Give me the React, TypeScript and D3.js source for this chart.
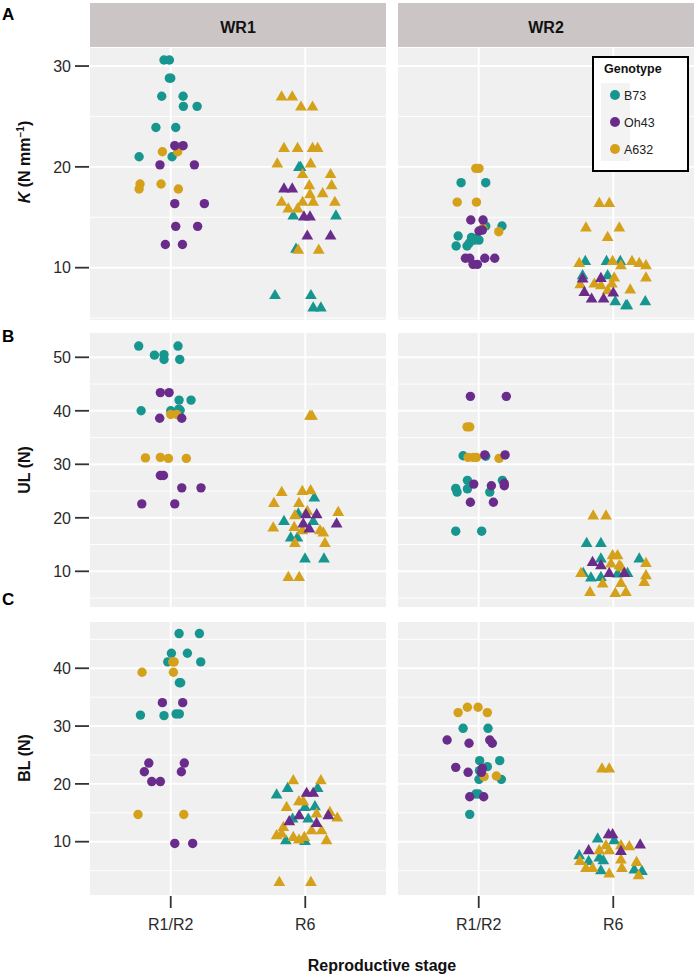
import * as d3 from "d3";

// [genotype, stage, jitter (in category steps), value]
type Pt = [string, string, number, number];

const genotypes = ["B73", "Oh43", "A632"];
const genotypeColors = ["#17968f", "#6a2c8b", "#d5a11a"];
const drawOrder = ["B73", "A632", "Oh43"];
const stages = ["R1/R2", "R6"];
const sites = ["WR1", "WR2"];

// ---- Panel A: K (N mm-1)
const kWR1: Pt[] = [
  ["B73", "R1/R2", -0.05, 30.6], ["B73", "R1/R2", -0.01, 30.6], ["B73", "R1/R2", -0.01, 28.8], ["B73", "R1/R2", 0.0, 28.8],
  ["B73", "R1/R2", -0.067, 27.0], ["B73", "R1/R2", 0.092, 27.0], ["B73", "R1/R2", 0.094, 26.0], ["B73", "R1/R2", 0.196, 26.0],
  ["B73", "R1/R2", -0.11, 23.9], ["B73", "R1/R2", 0.037, 23.9], ["B73", "R1/R2", -0.235, 21.0], ["B73", "R1/R2", 0.01, 21.0],
  ["Oh43", "R1/R2", 0.03, 22.1], ["Oh43", "R1/R2", 0.092, 22.1], ["Oh43", "R1/R2", -0.08, 20.2], ["Oh43", "R1/R2", 0.176, 20.2],
  ["Oh43", "R1/R2", 0.03, 16.35], ["Oh43", "R1/R2", 0.25, 16.35], ["Oh43", "R1/R2", 0.037, 14.1], ["Oh43", "R1/R2", 0.2, 14.1],
  ["Oh43", "R1/R2", -0.04, 12.3], ["Oh43", "R1/R2", 0.087, 12.3],
  ["A632", "R1/R2", -0.062, 21.5], ["A632", "R1/R2", 0.052, 21.5], ["A632", "R1/R2", -0.228, 18.3], ["A632", "R1/R2", -0.235, 17.8],
  ["A632", "R1/R2", -0.072, 18.3], ["A632", "R1/R2", 0.057, 17.8],
  ["B73", "R6", -0.047, 20.0], ["B73", "R6", -0.035, 20.0], ["B73", "R6", -0.089, 15.2], ["B73", "R6", 0.228, 15.2],
  ["B73", "R6", -0.069, 11.9], ["B73", "R6", -0.225, 7.3], ["B73", "R6", 0.042, 7.3], ["B73", "R6", 0.059, 6.07], ["B73", "R6", 0.116, 6.07],
  ["Oh43", "R6", -0.158, 17.87], ["Oh43", "R6", -0.097, 17.87], ["Oh43", "R6", -0.01, 15.1], ["Oh43", "R6", 0.035, 15.1],
  ["Oh43", "R6", 0.015, 13.2], ["Oh43", "R6", 0.188, 13.2],
  ["A632", "R6", -0.176, 27.0], ["A632", "R6", -0.097, 27.0], ["A632", "R6", -0.032, 26.0], ["A632", "R6", 0.054, 26.0],
  ["A632", "R6", -0.158, 21.9], ["A632", "R6", -0.057, 21.9], ["A632", "R6", 0.054, 21.9], ["A632", "R6", 0.092, 21.9],
  ["A632", "R6", -0.208, 20.35], ["A632", "R6", 0.04, 20.35], ["A632", "R6", -0.02, 19.3], ["A632", "R6", 0.188, 19.3],
  ["A632", "R6", 0.03, 18.2], ["A632", "R6", 0.196, 18.2], ["A632", "R6", 0.129, 17.4], ["A632", "R6", 0.035, 17.3],
  ["A632", "R6", -0.176, 16.55], ["A632", "R6", -0.02, 16.55], ["A632", "R6", 0.059, 16.55], ["A632", "R6", 0.22, 16.55],
  ["A632", "R6", -0.126, 15.9], ["A632", "R6", -0.057, 15.9], ["A632", "R6", -0.052, 11.8], ["A632", "R6", 0.1, 11.8],
];

const kWR2: Pt[] = [
  ["B73", "R1/R2", -0.131, 18.43], ["B73", "R1/R2", 0.052, 18.43], ["B73", "R1/R2", 0.052, 14.13], ["B73", "R1/R2", 0.173, 14.13],
  ["B73", "R1/R2", -0.153, 13.14], ["B73", "R1/R2", -0.054, 13.0], ["B73", "R1/R2", -0.168, 12.15], ["B73", "R1/R2", -0.087, 12.15],
  ["B73", "R1/R2", -0.03, 12.74], ["B73", "R1/R2", 0.002, 12.74], ["B73", "R1/R2", -0.07, 12.45], ["B73", "R1/R2", -0.015, 12.9],
  ["A632", "R1/R2", -0.022, 19.85], ["A632", "R1/R2", 0.002, 19.85], ["A632", "R1/R2", -0.16, 16.5], ["A632", "R1/R2", -0.017, 16.5],
  ["A632", "R1/R2", 0.149, 13.57], ["A632", "R1/R2", 0.03, 13.9],
  ["Oh43", "R1/R2", -0.059, 14.73], ["Oh43", "R1/R2", 0.032, 14.73], ["Oh43", "R1/R2", 0.002, 13.64], ["Oh43", "R1/R2", 0.027, 13.73],
  ["Oh43", "R1/R2", -0.099, 10.93], ["Oh43", "R1/R2", -0.067, 10.93], ["Oh43", "R1/R2", 0.045, 10.93], ["Oh43", "R1/R2", 0.119, 10.93],
  ["Oh43", "R1/R2", -0.042, 10.33], ["Oh43", "R1/R2", -0.01, 10.33],
  ["B73", "R6", -0.208, 10.69], ["B73", "R6", -0.05, 10.69], ["B73", "R6", 0.052, 10.69], ["B73", "R6", -0.228, 9.27],
  ["B73", "R6", -0.042, 9.27], ["B73", "R6", 0.015, 6.69], ["B73", "R6", 0.094, 6.29], ["B73", "R6", 0.104, 6.29], ["B73", "R6", 0.238, 6.69],
  ["A632", "R6", -0.104, 16.44], ["A632", "R6", -0.03, 16.44], ["A632", "R6", -0.203, 14.0], ["A632", "R6", 0.045, 14.0],
  ["A632", "R6", -0.042, 13.07], ["A632", "R6", -0.253, 10.49], ["A632", "R6", -0.005, 10.69], ["A632", "R6", 0.057, 10.26],
  ["A632", "R6", 0.139, 10.69], ["A632", "R6", 0.193, 10.49], ["A632", "R6", 0.243, 10.26], ["A632", "R6", 0.243, 9.04],
  ["A632", "R6", -0.245, 8.37], ["A632", "R6", -0.141, 8.44], ["A632", "R6", -0.092, 8.27], ["A632", "R6", 0.007, 9.04],
  ["A632", "R6", -0.01, 8.44], ["A632", "R6", -0.042, 7.78], ["A632", "R6", 0.126, 7.85],
  ["Oh43", "R6", -0.228, 8.94], ["Oh43", "R6", -0.092, 9.0], ["Oh43", "R6", -0.215, 7.61], ["Oh43", "R6", -0.161, 6.95],
  ["Oh43", "R6", -0.072, 6.95], ["Oh43", "R6", 0.0, 7.55],
];

// ---- Panel B: UL (N)
const ulWR1: Pt[] = [
  ["B73", "R1/R2", -0.238, 52.1], ["B73", "R1/R2", 0.054, 52.1], ["B73", "R1/R2", -0.121, 50.4], ["B73", "R1/R2", -0.05, 50.5],
  ["B73", "R1/R2", -0.05, 49.6], ["B73", "R1/R2", 0.067, 49.6], ["B73", "R1/R2", 0.062, 42.0], ["B73", "R1/R2", 0.151, 42.0],
  ["B73", "R1/R2", -0.22, 40.0], ["B73", "R1/R2", 0.0, 40.0], ["B73", "R1/R2", 0.07, 40.1], ["B73", "R1/R2", 0.06, 40.3],
  ["A632", "R1/R2", 0.0, 39.3], ["A632", "R1/R2", 0.045, 39.3], ["A632", "R1/R2", -0.188, 31.2], ["A632", "R1/R2", -0.077, 31.3],
  ["A632", "R1/R2", -0.017, 31.1], ["A632", "R1/R2", 0.116, 31.1],
  ["Oh43", "R1/R2", -0.077, 43.4], ["Oh43", "R1/R2", -0.012, 43.4], ["Oh43", "R1/R2", -0.082, 38.6], ["Oh43", "R1/R2", 0.082, 38.6],
  ["Oh43", "R1/R2", -0.077, 27.9], ["Oh43", "R1/R2", -0.054, 27.9], ["Oh43", "R1/R2", 0.082, 25.6], ["Oh43", "R1/R2", 0.225, 25.6],
  ["Oh43", "R1/R2", -0.215, 22.6], ["Oh43", "R1/R2", 0.03, 22.6],
  ["B73", "R6", 0.067, 23.83], ["B73", "R6", -0.052, 20.84], ["B73", "R6", -0.158, 19.46], ["B73", "R6", 0.059, 19.46],
  ["B73", "R6", -0.108, 16.36], ["B73", "R6", -0.059, 16.36], ["B73", "R6", -0.002, 12.43], ["B73", "R6", 0.139, 12.43],
  ["A632", "R6", 0.035, 39.1], ["A632", "R6", 0.05, 39.1], ["A632", "R6", -0.175, 24.88], ["A632", "R6", -0.022, 25.07],
  ["A632", "R6", 0.04, 25.2], ["A632", "R6", -0.233, 22.82], ["A632", "R6", -0.047, 22.82], ["A632", "R6", 0.245, 21.14],
  ["A632", "R6", -0.077, 20.52], ["A632", "R6", 0.015, 21.33], ["A632", "R6", -0.238, 18.22], ["A632", "R6", -0.082, 18.34],
  ["A632", "R6", -0.022, 17.72], ["A632", "R6", 0.109, 17.72], ["A632", "R6", 0.134, 17.29], ["A632", "R6", -0.077, 15.35],
  ["A632", "R6", 0.146, 15.35], ["A632", "R6", -0.126, 8.99], ["A632", "R6", -0.045, 8.99],
  ["Oh43", "R6", 0.005, 20.71], ["Oh43", "R6", 0.085, 20.71], ["Oh43", "R6", 0.233, 18.97], ["Oh43", "R6", -0.015, 18.97],
  ["Oh43", "R6", 0.03, 18.03],
];

const ulWR2: Pt[] = [
  ["B73", "R1/R2", -0.116, 31.6], ["B73", "R1/R2", 0.052, 31.5], ["B73", "R1/R2", -0.084, 27.0], ["B73", "R1/R2", 0.176, 27.0],
  ["B73", "R1/R2", -0.171, 25.5], ["B73", "R1/R2", -0.161, 24.8], ["B73", "R1/R2", -0.084, 25.4], ["B73", "R1/R2", 0.082, 24.8],
  ["B73", "R1/R2", -0.171, 17.5], ["B73", "R1/R2", 0.022, 17.5],
  ["A632", "R1/R2", -0.087, 37.0], ["A632", "R1/R2", -0.067, 37.0], ["A632", "R1/R2", -0.079, 31.3], ["A632", "R1/R2", -0.04, 31.3],
  ["A632", "R1/R2", -0.017, 31.3], ["A632", "R1/R2", 0.151, 31.1],
  ["Oh43", "R1/R2", -0.062, 42.7], ["Oh43", "R1/R2", 0.205, 42.7], ["Oh43", "R1/R2", 0.045, 31.75], ["Oh43", "R1/R2", 0.196, 31.75],
  ["Oh43", "R1/R2", -0.037, 26.3], ["Oh43", "R1/R2", 0.094, 26.0], ["Oh43", "R1/R2", 0.19, 26.0], ["Oh43", "R1/R2", 0.19, 26.4],
  ["Oh43", "R1/R2", -0.062, 22.9], ["Oh43", "R1/R2", 0.109, 22.9],
  ["B73", "R6", -0.198, 15.35], ["B73", "R6", -0.092, 15.35], ["B73", "R6", -0.092, 12.43], ["B73", "R6", 0.193, 12.43],
  ["B73", "R6", -0.223, 9.74], ["B73", "R6", -0.166, 8.88], ["B73", "R6", -0.092, 8.99], ["B73", "R6", 0.032, 9.63], ["B73", "R6", 0.106, 9.74],
  ["A632", "R6", -0.149, 20.47], ["A632", "R6", -0.054, 20.47], ["A632", "R6", -0.005, 13.05], ["A632", "R6", 0.032, 13.05],
  ["A632", "R6", -0.017, 11.5], ["A632", "R6", 0.045, 11.18], ["A632", "R6", 0.06, 10.8], ["A632", "R6", 0.243, 11.61],
  ["A632", "R6", -0.24, 9.74], ["A632", "R6", -0.079, 7.76], ["A632", "R6", 0.057, 7.87], ["A632", "R6", 0.243, 9.31],
  ["A632", "R6", 0.23, 8.06], ["A632", "R6", -0.173, 6.19], ["A632", "R6", 0.015, 6.0], ["A632", "R6", 0.094, 6.19],
  ["Oh43", "R6", -0.154, 11.8], ["Oh43", "R6", -0.092, 11.18], ["Oh43", "R6", -0.03, 9.74], ["Oh43", "R6", 0.082, 9.74],
];

// ---- Panel C: BL (N)
const blWR1: Pt[] = [
  ["B73", "R1/R2", 0.062, 46.0], ["B73", "R1/R2", 0.213, 46.0], ["B73", "R1/R2", 0.005, 42.6], ["B73", "R1/R2", 0.124, 42.6],
  ["B73", "R1/R2", -0.022, 41.1], ["B73", "R1/R2", 0.223, 41.1], ["B73", "R1/R2", 0.064, 37.5], ["B73", "R1/R2", 0.074, 37.5],
  ["B73", "R1/R2", -0.225, 31.9], ["B73", "R1/R2", -0.05, 31.8], ["B73", "R1/R2", 0.04, 32.1], ["B73", "R1/R2", 0.064, 32.1],
  ["A632", "R1/R2", 0.025, 41.1], ["A632", "R1/R2", 0.015, 41.1], ["A632", "R1/R2", -0.213, 39.3], ["A632", "R1/R2", 0.02, 39.3],
  ["A632", "R1/R2", -0.243, 14.7], ["A632", "R1/R2", 0.097, 14.7],
  ["Oh43", "R1/R2", -0.062, 34.05], ["Oh43", "R1/R2", 0.089, 34.05], ["Oh43", "R1/R2", -0.163, 23.6], ["Oh43", "R1/R2", 0.101, 23.6],
  ["Oh43", "R1/R2", -0.196, 22.1], ["Oh43", "R1/R2", 0.079, 22.1], ["Oh43", "R1/R2", -0.141, 20.4], ["Oh43", "R1/R2", -0.077, 20.4],
  ["Oh43", "R1/R2", 0.03, 9.7], ["Oh43", "R1/R2", 0.163, 9.7],
  ["B73", "R6", -0.213, 18.19], ["B73", "R6", -0.131, 19.34], ["B73", "R6", 0.092, 19.34], ["B73", "R6", -0.002, 16.05],
  ["B73", "R6", 0.072, 16.17], ["B73", "R6", -0.094, 14.03], ["B73", "R6", 0.022, 14.03], ["B73", "R6", -0.144, 10.28], ["B73", "R6", -0.002, 10.17],
  ["A632", "R6", -0.089, 20.67], ["A632", "R6", 0.116, 20.67], ["A632", "R6", -0.047, 17.03], ["A632", "R6", -0.015, 17.03],
  ["A632", "R6", -0.139, 16.05], ["A632", "R6", 0.084, 14.9], ["A632", "R6", 0.183, 15.19], ["A632", "R6", 0.238, 14.2],
  ["A632", "R6", -0.163, 12.59], ["A632", "R6", -0.176, 11.44], ["A632", "R6", -0.213, 11.15], ["A632", "R6", -0.089, 10.86],
  ["A632", "R6", -0.047, 10.4], ["A632", "R6", -0.007, 10.86], ["A632", "R6", 0.047, 12.0], ["A632", "R6", 0.121, 12.0],
  ["A632", "R6", 0.158, 10.28], ["A632", "R6", -0.193, 3.07], ["A632", "R6", 0.042, 3.07],
  ["Oh43", "R6", 0.01, 18.48], ["Oh43", "R6", 0.059, 18.48], ["Oh43", "R6", -0.045, 14.61], ["Oh43", "R6", -0.119, 13.57],
  ["Oh43", "R6", 0.084, 13.28], ["Oh43", "R6", 0.171, 14.61],
];

const blWR2: Pt[] = [
  ["B73", "R1/R2", -0.116, 29.61], ["B73", "R1/R2", 0.069, 29.61], ["B73", "R1/R2", 0.007, 24.02], ["B73", "R1/R2", 0.156, 24.02],
  ["B73", "R1/R2", 0.064, 22.98], ["B73", "R1/R2", 0.005, 22.3], ["B73", "R1/R2", 0.002, 20.78], ["B73", "R1/R2", 0.168, 20.78],
  ["B73", "R1/R2", -0.022, 18.25], ["B73", "R1/R2", -0.002, 18.25], ["B73", "R1/R2", -0.067, 14.73],
  ["A632", "R1/R2", -0.153, 32.33], ["A632", "R1/R2", -0.084, 33.25], ["A632", "R1/R2", -0.005, 33.25], ["A632", "R1/R2", 0.064, 32.33],
  ["A632", "R1/R2", 0.04, 21.25], ["A632", "R1/R2", 0.131, 21.36],
  ["Oh43", "R1/R2", -0.235, 27.59], ["Oh43", "R1/R2", -0.072, 27.02], ["Oh43", "R1/R2", 0.082, 27.59], ["Oh43", "R1/R2", 0.101, 27.02],
  ["Oh43", "R1/R2", -0.171, 22.86], ["Oh43", "R1/R2", -0.079, 22.0], ["Oh43", "R1/R2", 0.027, 22.69], ["Oh43", "R1/R2", 0.02, 22.0],
  ["Oh43", "R1/R2", -0.067, 17.78], ["Oh43", "R1/R2", 0.037, 17.78],
  ["B73", "R6", -0.116, 10.59], ["B73", "R6", 0.007, 10.29], ["B73", "R6", -0.253, 7.7], ["B73", "R6", -0.183, 6.71],
  ["B73", "R6", -0.104, 7.3], ["B73", "R6", -0.074, 6.83], ["B73", "R6", -0.092, 5.1], ["B73", "R6", 0.156, 5.22], ["B73", "R6", 0.213, 4.98],
  ["A632", "R6", -0.084, 22.7], ["A632", "R6", -0.03, 22.7], ["A632", "R6", -0.054, 9.43], ["A632", "R6", 0.057, 9.43],
  ["A632", "R6", 0.119, 9.26], ["A632", "R6", -0.104, 8.56], ["A632", "R6", -0.03, 8.56], ["A632", "R6", -0.248, 6.71],
  ["A632", "R6", -0.203, 5.5], ["A632", "R6", -0.154, 5.5], ["A632", "R6", -0.03, 4.53], ["A632", "R6", 0.057, 6.95],
  ["A632", "R6", 0.064, 5.5], ["A632", "R6", 0.173, 6.54], ["A632", "R6", 0.188, 4.24],
  ["Oh43", "R6", -0.035, 11.33], ["Oh43", "R6", -0.005, 11.33], ["Oh43", "R6", 0.2, 9.55], ["Oh43", "R6", -0.183, 8.56],
  ["Oh43", "R6", 0.057, 8.44],
];

const FONT = "'Liberation Sans', Arial, Helvetica, sans-serif";
const W = 694;
const H = 977;
const facetX: [number, number][] = [[90, 386], [398, 694]];

type Row = {
  letter: string;
  letterY: number;
  top: number;
  bottom: number;
  domain: [number, number];
  major: number[];
  minor: number[];
  data: Pt[][];
  titleY: number;
  title: JSX.Element;
};

const rows: Row[] = [
  {
    letter: "A", letterY: 20, top: 48, bottom: 320, domain: [4.81, 31.79],
    major: [10, 20, 30], minor: [5, 15, 25], data: [kWR1, kWR2], titleY: 162,
    title: (
      <>
        <tspan fontStyle="italic">K</tspan>
        <tspan> (N mm</tspan>
        <tspan dy={-6} fontSize={10}>−1</tspan>
        <tspan dy={6}>)</tspan>
      </>
    ),
  },
  {
    letter: "B", letterY: 342, top: 333, bottom: 607, domain: [3.33, 54.54],
    major: [10, 20, 30, 40, 50], minor: [5, 15, 25, 35, 45], data: [ulWR1, ulWR2], titleY: 470,
    title: <>UL (N)</>,
  },
  {
    letter: "C", letterY: 605, top: 622, bottom: 895, domain: [0.78, 48.0],
    major: [10, 20, 30, 40], minor: [5, 15, 25, 35, 45], data: [blWR1, blWR2], titleY: 758,
    title: <>BL (N)</>,
  },
];

const color = d3.scaleOrdinal<string, string>().domain(genotypes).range(genotypeColors);
const triangle = d3.symbol(d3.symbolTriangle, 60)();

function Facet({ row, fi, showX }: { row: Row; fi: number; showX: boolean }) {
  const [x0, x1] = facetX[fi];
  const x = d3.scalePoint<string>().domain(stages).range([x0, x1]).padding(0.6);
  const step = x.step();
  const y = d3.scaleLinear().domain(row.domain).range([row.bottom, row.top]);
  const pts = drawOrder.flatMap((g) => row.data[fi].filter((d) => d[0] === g));
  return (
    <g>
      <rect x={x0} y={row.top} width={x1 - x0} height={row.bottom - row.top} fill="#f0f0f0" />
      {row.minor.filter((v) => v > row.domain[0] && v < row.domain[1]).map((v) => (
        <line key={"mi" + v} x1={x0} x2={x1} y1={y(v)} y2={y(v)} stroke="#fff" strokeWidth={0.9} />
      ))}
      {row.major.map((v) => (
        <line key={"ma" + v} x1={x0} x2={x1} y1={y(v)} y2={y(v)} stroke="#fff" strokeWidth={1.9} />
      ))}
      {stages.map((s) => (
        <line key={s} x1={x(s)} x2={x(s)} y1={row.top} y2={row.bottom} stroke="#fff" strokeWidth={1.9} />
      ))}
      {pts.map((d, i) => {
        const cx = (x(d[1]) as number) + d[2] * step;
        const cy = y(d[3]);
        return d[1] === "R6" ? (
          <path key={i} d={triangle!} transform={`translate(${cx},${cy + 0.8})`} fill={color(d[0])} />
        ) : (
          <circle key={i} cx={cx} cy={cy} r={4.7} fill={color(d[0])} />
        );
      })}
      {fi === 0 &&
        row.major.map((v) => (
          <g key={"t" + v}>
            <line x1={75} x2={89} y1={y(v)} y2={y(v)} stroke="#333" strokeWidth={1.8} />
            <text x={71} y={y(v)} dy="0.36em" textAnchor="end" fontSize={16} fill="#2a2a2a">{v}</text>
          </g>
        ))}
      {showX &&
        stages.map((s) => (
          <g key={"xt" + s}>
            <line x1={x(s)} x2={x(s)} y1={row.bottom + 1} y2={row.bottom + 13} stroke="#333" strokeWidth={1.8} />
            <text x={x(s)} y={930} textAnchor="middle" fontSize={16} fill="#2a2a2a">{s}</text>
          </g>
        ))}
    </g>
  );
}

export default function App() {
  const legendYs = [95, 122, 149];
  return (
    <svg
      width={W}
      height={H}
      viewBox={`0 0 ${W} ${H}`}
      style={{ position: "absolute", left: 0, top: 0, background: "#fff" }}
      fontFamily={FONT}
    >
      <rect width={W} height={H} fill="#fff" />
      {/* strips */}
      {sites.map((s, i) => (
        <g key={s}>
          <rect x={facetX[i][0]} y={3} width={facetX[i][1] - facetX[i][0]} height={44} fill="#cbc5c5" />
          <text x={(facetX[i][0] + facetX[i][1]) / 2} y={33} textAnchor="middle" fontSize={16} fontWeight="bold" fill="#111">
            {s}
          </text>
        </g>
      ))}
      {rows.map((row, ri) => (
        <g key={row.letter}>
          {facetX.map((_, fi) => (
            <Facet key={fi} row={row} fi={fi} showX={ri === rows.length - 1} />
          ))}
          <text x={2} y={row.letterY} fontSize={17} fontWeight="bold" fill="#000">{row.letter}</text>
          <text
            transform={`translate(30,${row.titleY}) rotate(-90)`}
            textAnchor="middle"
            fontSize={16}
            fontWeight="bold"
            fill="#111"
          >
            {row.title}
          </text>
        </g>
      ))}
      <text x={382} y={971} textAnchor="middle" fontSize={16} fontWeight="bold" fill="#111">
        Reproductive stage
      </text>
      {/* legend */}
      <g>
        <rect x={593} y={57} width={95} height={114} fill="#fff" stroke="#000" strokeWidth={2} />
        <text x={604} y={73} fontSize={12.5} fontWeight="bold" fill="#111">Genotype</text>
        <rect x={601} y={83} width={29} height={78} fill="#f3f3f3" />
        {genotypes.map((g, i) => (
          <g key={g}>
            <circle cx={615} cy={legendYs[i]} r={5} fill={color(g)} />
            <text x={624} y={legendYs[i]} dy="0.36em" fontSize={12.5} fill="#222">{g}</text>
          </g>
        ))}
      </g>
    </svg>
  );
}
